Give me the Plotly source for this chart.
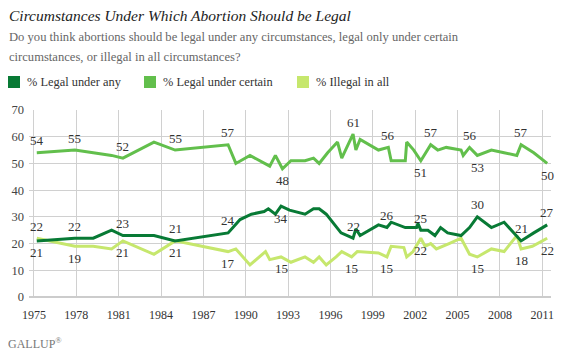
import plotly.graph_objects as go

# ---- data (decimal year, percent) ----
any_x = [1975.2, 1977.9, 1979.2, 1980.5, 1981.3, 1983.5, 1985.0, 1988.75, 1989.6, 1990.4,
         1991.3, 1991.6, 1992.1, 1992.5, 1993.1, 1994.2, 1994.8, 1995.2, 1995.7, 1996.75,
         1997.6, 1997.8, 1998.1, 1999.4, 2000.0, 2000.3, 2001.3, 2002.1, 2002.2, 2002.4,
         2002.9, 2003.4, 2003.8, 2004.3, 2005.25, 2005.85, 2006.4, 2007.4, 2008.3, 2009.2,
         2009.5, 2010.4, 2011.35]
any_y = [21, 22, 22, 25, 23, 23, 21, 24, 29, 31,
         32, 33, 31, 34, 32.5, 31, 33, 33, 31, 24,
         22, 25.5, 23, 27, 26, 28, 26, 26, 27.5, 25,
         25, 23, 26, 24, 23, 26, 30, 26, 28, 23,
         21, 24, 27]

certain_x = [1975.2, 1977.9, 1979.2, 1980.5, 1981.3, 1983.5, 1985.0, 1988.75, 1989.3, 1990.3,
             1991.7, 1992.1, 1992.6, 1993.2, 1994.2, 1994.8, 1995.2, 1995.8, 1996.5, 1996.8,
             1997.6, 1997.8, 1998.1, 1999.4, 2000.1, 2000.3, 2001.3, 2001.4, 2001.9, 2002.4,
             2003.1, 2003.6, 2004.2, 2005.25, 2005.4, 2005.85, 2006.4, 2007.4, 2008.3, 2009.2,
             2009.5, 2010.4, 2011.35]
certain_y = [54, 55, 54, 53, 52, 58, 55, 57, 50, 53,
             49, 53, 48, 51, 51, 52, 50, 54, 58, 52,
             61, 55, 59, 55, 56, 51, 51, 58, 55, 51,
             57, 55, 56, 55, 53, 56, 53, 55, 54, 53,
             57, 54, 50]

illegal_x = [1975.2, 1977.9, 1979.2, 1980.5, 1981.3, 1983.5, 1985.0, 1988.75, 1989.3, 1990.3,
             1991.4, 1991.7, 1992.5, 1993.2, 1994.2, 1994.8, 1995.2, 1995.7, 1996.4, 1996.8,
             1997.5, 1997.9, 1999.4, 2000.0, 2000.3, 2001.2, 2001.4, 2001.85, 2002.4, 2002.7,
             2003.1, 2003.5, 2004.4, 2005.25, 2005.85, 2006.4, 2007.4, 2008.3, 2009.2, 2009.5,
             2010.3, 2011.35]
illegal_y = [22, 19, 19, 18, 21, 16, 21, 17, 18, 12,
             17, 14, 15, 13, 15, 13, 15, 12, 15, 17,
             15, 17, 16.5, 15, 19, 18.5, 15, 17, 22, 19,
             20, 18, 20, 22, 16, 15, 18, 17, 23, 18,
             19, 22]

# labelled points: (x, value, position)
certain_lab_x = [1975.2, 1977.9, 1981.3, 1985.0, 1988.75, 1992.6, 1997.6, 2000.1, 2002.4, 2003.1, 2005.85, 2006.4, 2009.5, 2011.35]
certain_lab_y = [54, 55, 52, 55, 57, 48, 61, 56, 51, 57, 56, 53, 57, 50]
certain_lab_pos = ["top", "top", "top", "top", "top", "bottom", "top", "top", "bottom", "top", "top", "bottom", "top", "bottom"]

any_lab_x = [1975.2, 1977.9, 1981.3, 1985.0, 1988.75, 1992.5, 1997.6, 2000.0, 2002.4, 2006.4, 2009.5, 2011.35]
any_lab_y = [21, 22, 23, 21, 24, 34, 22, 26, 25, 30, 21, 27]
any_lab_pos = ["bottom", "top", "top", "top", "top", "bottom", "top", "top", "top", "top", "top", "top"]

illegal_lab_x = [1975.2, 1977.9, 1981.3, 1985.0, 1988.75, 1992.5, 1997.5, 2000.0, 2002.4, 2006.4, 2009.5, 2011.35]
illegal_lab_y = [22, 19, 21, 21, 17, 15, 15, 15, 22, 15, 18, 22]
illegal_lab_pos = ["top", "bottom", "bottom", "bottom", "bottom", "bottom", "bottom", "bottom", "bottom", "bottom", "bottom", "bottom"]

x_ticks = [1975, 1978, 1981, 1984, 1987, 1990, 1993, 1996, 1999, 2002, 2005, 2008, 2011]
y_ticks = [0, 10, 20, 30, 40, 50, 60, 70]

C_ANY = "#087a35"
C_CERT = "#62bf4c"
C_ILL = "#c6e76d"
FONT = "Liberation Serif"

fig = go.Figure()
fig.add_trace(go.Scatter(x=illegal_x, y=illegal_y, mode="lines", line=dict(color=C_ILL, width=3),
                         name="% Illegal in all", showlegend=False))
fig.add_trace(go.Scatter(x=certain_x, y=certain_y, mode="lines", line=dict(color=C_CERT, width=3),
                         name="% Legal under certain", showlegend=False))
fig.add_trace(go.Scatter(x=any_x, y=any_y, mode="lines", line=dict(color=C_ANY, width=3),
                         name="% Legal under any", showlegend=False))

for lx, ly, lp in [(certain_lab_x, certain_lab_y, certain_lab_pos),
                   (any_lab_x, any_lab_y, any_lab_pos),
                   (illegal_lab_x, illegal_lab_y, illegal_lab_pos)]:
    for xv, yv, pos in zip(lx, ly, lp):
        fig.add_annotation(x=xv, y=yv, xref="x", yref="y", text=str(int(yv)), showarrow=False,
                           xanchor="center", yanchor="middle", yshift=12 if pos == "top" else -12,
                           font=dict(family=FONT, size=13, color="#333333"))

# figure is placed 8px in from the page's top-left corner
fig.update_layout(
    width=556, height=350,
    margin=dict(l=21, r=13, t=102, b=61, autoexpand=False),
    paper_bgcolor="white", plot_bgcolor="white",
    font=dict(family=FONT, color="#333333"),
    showlegend=False,
)
fig.update_xaxes(range=[1974.65, 2011.62], tickvals=x_ticks, ticktext=[str(t) for t in x_ticks],
                 showgrid=True, gridcolor="#d0d0d0", gridwidth=1, zeroline=False, automargin=False,
                 showline=False, ticks="", tickfont=dict(family=FONT, size=12, color="#333333"),
                 ticklabelstandoff=9)
fig.update_yaxes(range=[0, 70], tickvals=y_ticks, showgrid=True, gridcolor="#d0d0d0", gridwidth=1,
                 zeroline=True, zerolinecolor="#cccccc", zerolinewidth=2, automargin=False,
                 showline=False, ticks="", tickfont=dict(family=FONT, size=12.5, color="#444444"),
                 ticklabelstandoff=4)

def py(ref_y):
    # reference page pixel (y) -> paper coordinate
    return 1 + (110 - ref_y) / 187

def px(ref_x):
    # reference page pixel (x) -> paper coordinate
    return (ref_x - 29) / 522

# title & subtitle
fig.add_annotation(xref="paper", yref="paper", x=px(7), xanchor="left", y=py(5), yanchor="top",
                   showarrow=False, text="<i>Circumstances Under Which Abortion Should be Legal</i>",
                   font=dict(family=FONT, size=15.5, color="#222222"))
for txt, yy in [("Do you think abortions should be legal under any circumstances, legal only under certain", 37),
                ("circumstances, or illegal in all circumstances?", 57)]:
    fig.add_annotation(xref="paper", yref="paper", x=px(7), xanchor="left", y=py(yy), yanchor="middle",
                       showarrow=False, text=txt, font=dict(family=FONT, size=12.6, color="#666666"))

# legend (custom)
legend_items = [("% Legal under any", C_ANY, 8), ("% Legal under certain", C_CERT, 144), ("% Illegal in all", C_ILL, 297)]
for label, col, lx0 in legend_items:
    fig.add_shape(type="rect", xref="paper", yref="paper",
                  x0=px(lx0), x1=px(lx0 + 12), y0=py(88), y1=py(76),
                  fillcolor=col, line=dict(width=0))
    fig.add_annotation(xref="paper", yref="paper", x=px(lx0 + 17), xanchor="left",
                       y=py(82), yanchor="middle", showarrow=False,
                       text=label, font=dict(family=FONT, size=12.4, color="#333333"))

# Gallup logo
fig.add_annotation(xref="paper", yref="paper", x=px(6), xanchor="left",
                   y=py(343), yanchor="middle", showarrow=False,
                   text="GALLUP<sup>®</sup>", font=dict(family=FONT, size=12, color="#777777"))

fig.write_html("out.html")
